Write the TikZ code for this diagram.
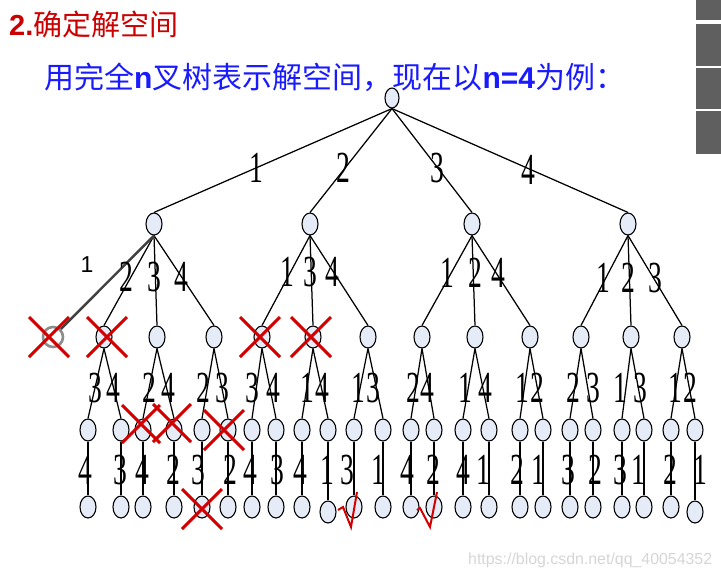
\documentclass[tikz,border=0pt]{standalone}
\usepackage{fontspec}
\setmainfont{Liberation Sans}
\newfontfamily\cjk{Noto Sans CJK SC}
\newfontfamily\tnr{Liberation Serif}
\usetikzlibrary{shapes.geometric}
\definecolor{nodefill}{HTML}{E6ECF7}
\definecolor{titlered}{HTML}{CC0000}
\definecolor{xred}{HTML}{D20000}
\definecolor{subblue}{HTML}{1A1AFF}
\definecolor{boxgray}{HTML}{5F5F5F}
\definecolor{circgray}{HTML}{8C8C8C}
\definecolor{edgegray}{HTML}{404040}
\definecolor{wmgray}{HTML}{D6D6D6}
\newcommand{\dg}[1]{\scalebox{1.15}[1.85]{\fontsize{24}{24}\tnr #1}}
\begin{document}
\begin{tikzpicture}[x=1pt,y=-1pt,
  nd/.style={ellipse,draw=black,line width=1.1pt,fill=nodefill,minimum width=16pt,minimum height=22pt,inner sep=0pt},
  edge/.style={line width=1.25pt},
  lab/.style={inner sep=0pt},
  redx/.style={draw=xred,line width=3pt},
  redv/.style={draw=xred,line width=2pt}]
\useasboundingbox (0,0) rectangle (721,576);
\fill[white] (0,0) rectangle (721,576);
% right gray boxes
\fill[boxgray] (696,0) rectangle (721,20);
\fill[boxgray] (696,24) rectangle (721,66);
\fill[boxgray] (696,67.5) rectangle (721,109);
\fill[boxgray] (696,111) rectangle (721,154);
% title
\node[anchor=west,inner sep=0pt,text=titlered] (title) at (9,24.5)
  {\fontsize{29}{29}\selectfont\bfseries 2.{\cjk\mdseries 确定解空间}};
\node[anchor=west,inner sep=0pt,text=subblue] (sub) at (44,77)
  {\fontsize{30}{30}\selectfont\cjk 用完全{\rmfamily\bfseries n}叉树表示解空间，现在以{\rmfamily\bfseries n=4}为例：};
% nodes
\node[nd,minimum width=14pt,minimum height=20pt] (r) at (392,98) {};
\foreach \n/\x in {1/154,2/310,3/472,4/628} \node[nd] (a\n) at (\x,224) {};
\foreach \n/\x in {1/104,2/157,3/214,4/262,5/313,6/368,7/422,8/475,9/530,10/581,11/631,12/682}
  \node[nd] (b\n) at (\x,337) {};
\foreach \n/\x in {1/88,2/121,3/143,4/174,5/202,6/228,7/252,8/276,9/302,10/328,11/354,12/383,13/411,14/434,15/463,16/489,17/520,18/543,19/570,20/593,21/622,22/644,23/671,24/695}
  \node[nd] (c\n) at (\x,430) {};
\foreach \n/\x/\y in {1/88/507,2/121/507,3/143/507,4/174/507,5/202/507,6/228/507,7/252/507,8/276/507,9/302/507,10/328/512,11/354/507,12/383/507,13/411/507,14/434/507,15/463/507,16/489/507,17/520/507,18/543/507,19/570/507,20/593/507,21/622/507,22/644/507,23/671/507,24/695/512}
  \node[nd] (d\n) at (\x,\y) {};
\node[circle,draw=circgray,line width=2.6pt,minimum size=20pt,inner sep=0pt] (g) at (53,337) {};
% edges
\foreach \i in {1,...,4} \draw[edge] (r.south) -- (a\i.north);
\foreach \i in {1,...,4} \foreach \j in {1,2,3} {
  \pgfmathtruncatemacro\k{3*(\i-1)+\j}
  \draw[edge] (a\i.south) -- (b\k.north);}
\draw[line width=2.4pt,draw=edgegray] (a1.south) -- (g);
\foreach \j in {1,...,12} {
  \pgfmathtruncatemacro\p{2*\j-1}
  \pgfmathtruncatemacro\q{2*\j}
  \draw[edge] (b\j.south) -- (c\p.north);
  \draw[edge] (b\j.south) -- (c\q.north);}
\foreach \k in {1,...,24} \draw[edge] (c\k.south) -- (d\k.north);
% labels level 1
\foreach \n/\x/\y/\t in {1/256/168/1,2/343/168/2,3/437/168/3,4/528/170/4}
  \node[lab] (la\n) at (\x,\y) {\dg{\t}};
% labels level 2
\foreach \n/\x/\y/\t in {1/126/277/2,2/154/277/3,3/181/277/4,4/287/272/1,5/310/272/3,6/332/272/4,7/447/273/1,8/475/273/2,9/498/273/4,10/603/278/1,11/628/278/2,12/655/278/3}
  \node[lab] (lb\n) at (\x,\y) {\dg{\t}};
\node[inner sep=0pt,font=\fontsize{23}{23}\selectfont] (lg) at (87,265) {1};
% labels level 3
\foreach \n/\x/\t in {1/95/3,2/113/4,3/149/2,4/168/4,5/203/2,6/222/3,7/252/3,8/273/4,9/307/1,10/322/4,11/358/1,12/373/3,13/413/2,14/427/4,15/465/1,16/485/4,17/522/1,18/537/2,19/573/2,20/593/3,21/620/1,22/640/3,23/675/1,24/690/2}
  \node[lab] (lc\n) at (\x,388) {\dg{\t}};
% labels level 4
\foreach \n/\x/\t in {1/85/4,2/120/3,3/142/4,4/173/2,5/198/3,6/230/2,7/250/4,8/277/3,9/300/4,10/327/1,11/347/3,12/378/1,13/407/4,14/433/2,15/463/4,16/483/1,17/517/2,18/538/1,19/568/3,20/595/2,21/620/3,22/638/1,23/670/2,24/700/1}
  \node[lab] (ld\n) at (\x,470) {\dg{\t}};
% red crosses
\foreach \x/\y in {49/337,107/337,260/337,311/337,224/430,202/509}
  \draw[redx] ({\x-20},{\y-20}) -- ({\x+20},{\y+20}) ({\x-20},{\y+20}) -- ({\x+20},{\y-20});
\foreach \x/\y in {141/424,172/423}
  \draw[redx] ({\x-19},{\y-19}) -- ({\x+19},{\y+19}) ({\x-19},{\y+19}) -- ({\x+19},{\y-19});
% check marks
\draw[redv] (338,510) -- (343,507) -- (351,527) -- (357,492);
\draw[redv] (417,510) -- (420,508) -- (430,527) -- (437,492);
% watermark
\node[anchor=west,inner sep=0pt,text=wmgray,font=\fontsize{15.9}{16}\selectfont] (wm) at (468,560) {https://blog.csdn.net/qq\_40054352};
\end{tikzpicture}
\end{document}
